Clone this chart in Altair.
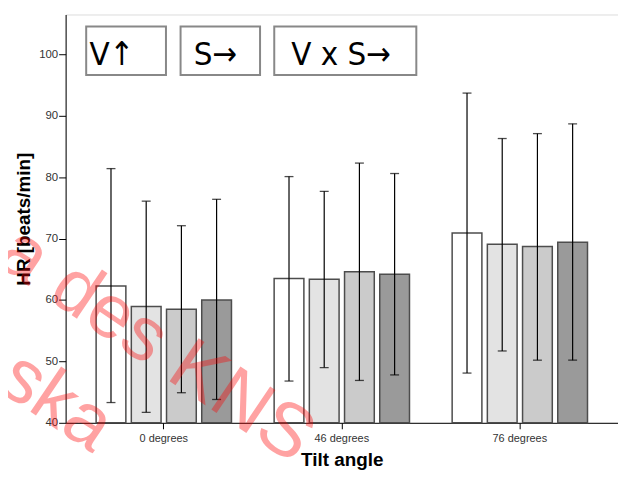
import altair as alt
import pandas as pd

groups = ["0 degrees", "46 degrees", "76 degrees"]
conditions = ["C1", "C2", "C3", "C4"]
bar_colors = ["#ffffff", "#e3e3e3", "#cbcbcb", "#9a9a9a"]

means = [[62.3, 58.95, 58.5, 60.0],
         [63.5, 63.4, 64.6, 64.2],
         [70.9, 69.1, 68.7, 69.4]]
upper = [[81.4, 76.1, 72.1, 76.4],
         [80.1, 77.7, 82.3, 80.6],
         [93.7, 86.3, 87.1, 88.7]]
lower = [[43.3, 41.7, 44.9, 43.8],
         [46.8, 49.0, 46.9, 47.8],
         [48.1, 51.7, 50.2, 50.2]]

y_ticks = [40, 50, 60, 70, 80, 90, 100]
box_labels = ["V\u2191", "S\u2192", "V x S\u2192"]
watermark = ["a des KNS", "ska"]

rows = []
for gi, g in enumerate(groups):
    for ci, c in enumerate(conditions):
        rows.append({"angle": g, "cond": c, "mean": means[gi][ci],
                     "lo": lower[gi][ci], "hi": upper[gi][ci]})
df = pd.DataFrame(rows)

FONT = "Liberation Sans, Arial, sans-serif"

x_enc = alt.X("angle:N", sort=groups,
              scale=alt.Scale(domain=groups, paddingInner=0.209, paddingOuter=0.156),
              axis=alt.Axis(title="Tilt angle", labelAngle=0, grid=False,
                            tickSize=6, labelPadding=4, titlePadding=7,
                            labelFontSize=11, labelColor="#333333", labelFont=FONT,
                            titleFont=FONT, titleFontSize=19, titleFontWeight="bold",
                            titleColor="black", domainColor="black", tickColor="black"))
xo_enc = alt.XOffset("cond:N", sort=conditions,
                     scale=alt.Scale(domain=conditions, paddingInner=0.155, paddingOuter=0.0775))
y_scale = alt.Scale(domain=[40, 106.5], nice=False, zero=False)

bars = alt.Chart(df).mark_bar(stroke="#4d4d4d", strokeWidth=1.5).encode(
    x=x_enc,
    xOffset=xo_enc,
    y=alt.Y("mean:Q", scale=y_scale,
            axis=alt.Axis(title="HR [beats/min]", values=y_ticks, grid=False,
                          tickSize=7, labelPadding=1, titlePadding=5,
                          labelFontSize=11.5, labelColor="#333333", labelFont=FONT,
                          titleFont=FONT, titleFontSize=19, titleFontWeight="bold",
                          titleColor="black", domainColor="black", tickColor="black")),
    y2=alt.datum(40),
    color=alt.Color("cond:N", scale=alt.Scale(domain=conditions, range=bar_colors), legend=None),
)

rules = alt.Chart(df).mark_rule(color="black", strokeWidth=1.2).encode(
    x=x_enc, xOffset=xo_enc, y=alt.Y("lo:Q", scale=y_scale), y2="hi:Q")
caps_hi = alt.Chart(df).mark_tick(color="black", size=9, thickness=1.3).encode(
    x=x_enc, xOffset=xo_enc, y=alt.Y("hi:Q", scale=y_scale))
caps_lo = alt.Chart(df).mark_tick(color="black", size=9, thickness=1.3).encode(
    x=x_enc, xOffset=xo_enc, y=alt.Y("lo:Q", scale=y_scale))

one = pd.DataFrame({"k": [0]})
box_pos = [(20.7, 101), (115.7, 195.7), (210, 353)]
text_pos = [24, 129, 227]
ann = []
for (x1, x2), tx, lab in zip(box_pos, text_pos, box_labels):
    ann.append(alt.Chart(one).mark_rect(fill="white", stroke="#888888", strokeWidth=2).encode(
        x=alt.value(x1), x2=alt.value(x2), y=alt.value(12), y2=alt.value(61)))
    ann.append(alt.Chart(one).mark_text(align="left", baseline="alphabetic", fontSize=33,
                                        font="Liberation Sans Narrow, DejaVu Sans Condensed, sans-serif",
                                        color="black").encode(
        x=alt.value(tx), y=alt.value(51), text=alt.value(lab)))

wm1 = alt.Chart(one).mark_text(align="left", baseline="alphabetic", angle=34, fontSize=76,
                               font=FONT, color="red", opacity=0.36).encode(
    x=alt.value(-72), y=alt.value(250), text=alt.value(watermark[0]))
wm2 = alt.Chart(one).mark_text(align="right", baseline="alphabetic", angle=34, fontSize=76,
                               font=FONT, color="red", opacity=0.36).encode(
    x=alt.value(27), y=alt.value(442), text=alt.value(watermark[1]))

chart = alt.layer(bars, rules, caps_hi, caps_lo, *ann, wm1, wm2).properties(
    width=556, height=411,
    autosize=alt.AutoSizeParams(type="none"),
    padding={"left": 58, "top": 5, "right": 0, "bottom": 51},
).configure_view(stroke="#808080", strokeWidth=2).configure(background="white")

chart.save("out.html", embed_options={"renderer": "svg", "actions": False})
